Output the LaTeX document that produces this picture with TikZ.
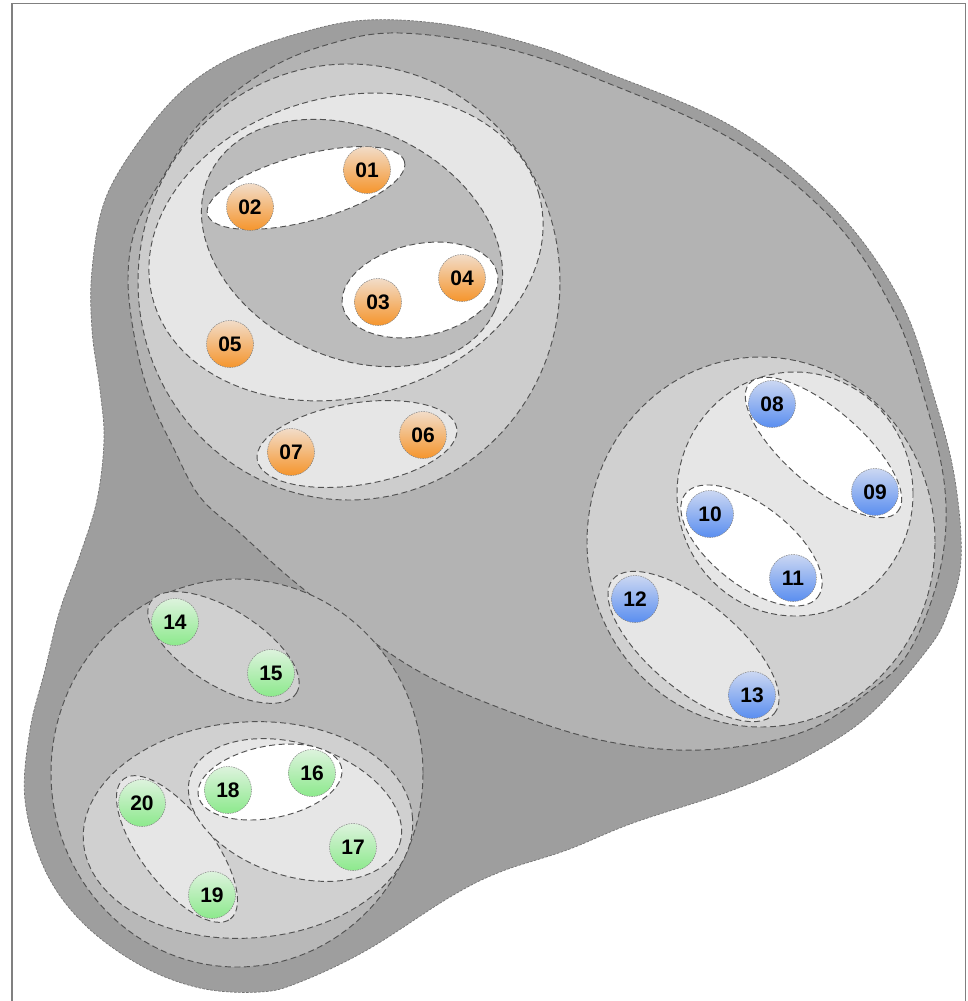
\documentclass[tikz,border=0pt]{standalone}
\usepackage{fontspec}
\setmainfont{Liberation Sans}
\definecolor{cBlob}{HTML}{9E9E9E}
\definecolor{cE}{HTML}{B3B3B3}
\definecolor{cOne}{HTML}{CDCDCD}
\definecolor{cTwo}{HTML}{E6E6E6}
\definecolor{cThree}{HTML}{BCBCBC}
\definecolor{cLight}{HTML}{E6E6E6}
\definecolor{cMid}{HTML}{D0D0D0}
\definecolor{cGOne}{HTML}{B8B8B8}
\definecolor{orTop}{HTML}{F2DCC8}
\definecolor{orBot}{HTML}{F5952C}
\definecolor{blTop}{HTML}{CBD7F2}
\definecolor{blBot}{HTML}{5A8EF0}
\definecolor{grTop}{HTML}{DDF3DD}
\definecolor{grBot}{HTML}{8CE98C}
\newcommand\myell[6]{\path[region, fill=#1, shift={(#2,#3)}, rotate=#6] (0,0) ellipse [x radius=#4pt, y radius=#5pt];}
\begin{document}
\begin{tikzpicture}[x=1pt,y=-1pt,
  region/.style={draw=black!68, line width=0.95pt, dash pattern=on 6pt off 3.5pt},
  blobline/.style={draw=black!55, line width=0.7pt, dash pattern=on 2.5pt off 1.5pt},
  ball/.style={circle, minimum size=47pt, inner sep=0pt, draw=black!50, line width=0.5pt,
    dash pattern=on 1.5pt off 1pt, font=\fontsize{21}{24}\selectfont\bfseries},
  onode/.style={ball, top color=orTop, bottom color=orBot},
  bnode/.style={ball, top color=blTop, bottom color=blBot},
  gnode/.style={ball, top color=grTop, bottom color=grBot}]
\useasboundingbox (0,0) rectangle (967,1001);
\fill[white] (0,0) rectangle (967,1001);
% outer blob
\path[blobline, fill=cBlob] plot[smooth cycle, tension=0.6] coordinates {
 (367,20) (450,25) (533,45) (600,70) (733,127) (833,207) (900,300) (935,400)
 (955,480) (961,560) (948,612) (927,650) (867,717) (800,760) (733,790) (633,823)
 (567,850) (500,872) (450,897) (367,950) (300,982) (260,992) (200,988) (140,965)
 (83,923) (45,870) (25,800) (30,730) (45,670) (60,610) (80,555) (97,500) (104,440)
 (100,390) (92,330) (92,270) (105,200) (140,140) (183,90) (233,57) (300,33)};
% big region E
\path[region, fill=cE] plot[smooth cycle, tension=0.6] coordinates {
 (400,33) (500,47) (600,80) (733,140) (833,220) (893,310) (925,400) (945,490)
 (940,570) (910,650) (867,693) (800,733) (700,750) (600,740) (500,708) (420,672)
 (350,625) (290,578) (240,533) (200,497) (173,447) (150,397) (135,340) (128,280)
 (135,230) (157,187) (200,123) (267,70) (333,43)};
% green big circle
\myell{cGOne}{237}{773}{186}{194}{0}
% orange group
\myell{cOne}{349}{282}{211}{218}{0}
\myell{cTwo}{346}{247}{200}{150}{15}
\myell{cThree}{352}{243}{158}{114}{-26}
\myell{white}{306}{188}{102}{33}{15}
\myell{white}{420}{290}{79}{46}{12}
\myell{cLight}{357}{444}{101}{41}{9}
% blue group
\myell{cMid}{761}{542}{174}{185}{0}
\myell{cTwo}{795}{494}{118}{122}{0}
\myell{white}{823.5}{447.5}{98}{38}{-40.8}
\myell{white}{751.5}{545.5}{84}{40}{-38}
\myell{cLight}{693.5}{646.5}{105}{44}{-39.7}
% green group
\myell{cMid}{223.5}{647.5}{86}{38}{-32}
\myell{cMid}{248}{830}{165}{108}{4}
\myell{cLight}{177}{849}{88}{36}{-52.7}
\myell{cLight}{295}{810}{110}{66}{-18}
\myell{white}{270}{782}{73}{36}{11}
% nodes
\node[onode] (n01) at (367,170) {01};
\node[onode] (n02) at (250,207) {02};
\node[onode] (n03) at (378,302) {03};
\node[onode] (n04) at (462,278) {04};
\node[onode] (n05) at (230,344) {05};
\node[onode] (n06) at (423,435) {06};
\node[onode] (n07) at (291,452) {07};
\node[bnode] (n08) at (772,404) {08};
\node[bnode] (n09) at (875,492) {09};
\node[bnode] (n10) at (710,514) {10};
\node[bnode] (n11) at (793,578) {11};
\node[bnode] (n12) at (635,599) {12};
\node[bnode] (n13) at (752,695) {13};
\node[gnode] (n14) at (175,622) {14};
\node[gnode] (n15) at (271,673) {15};
\node[gnode] (n16) at (312,773) {16};
\node[gnode] (n17) at (353,847) {17};
\node[gnode] (n18) at (228,790) {18};
\node[gnode] (n19) at (212,895) {19};
\node[gnode] (n20) at (142,803) {20};
% frame
\draw[black!50, line width=1.5pt] (12,3.5) rectangle (965.5,1005);
\end{tikzpicture}
\end{document}
